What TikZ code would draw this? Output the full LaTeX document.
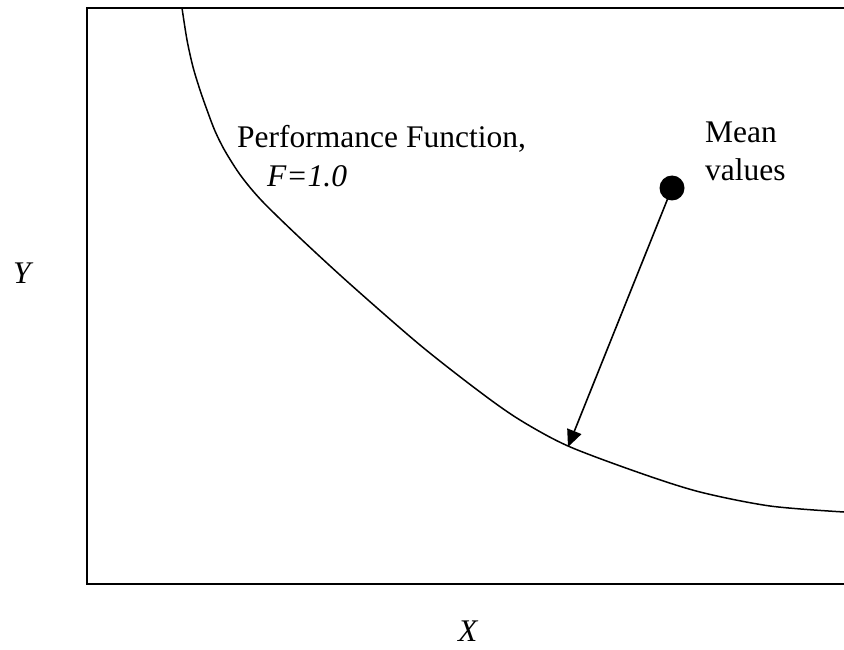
\documentclass[tikz,border=0pt]{standalone}
\usepackage{fontspec}
\setmainfont{Liberation Serif}
\usetikzlibrary{arrows.meta}
\begin{document}
\begin{tikzpicture}[x=1pt,y=-1pt,
  lbl/.style={anchor=base west,inner sep=0pt,font=\fontsize{31.5}{38}\selectfont},
  frame/.style={line width=2pt},
  curve/.style={line width=1.5pt},
  arr/.style={line width=1.6pt,-{Triangle[length=17pt,width=15pt]}},
  dot/.style={circle,fill=black,inner sep=0pt,minimum size=25pt}]
\useasboundingbox (0,0) rectangle (844,650);
\draw[frame] (844,8) -- (87,8) -- (87,584) -- (844,584);
\draw[curve] plot[smooth] coordinates {(182,8) (187,40) (193,67) (200,90) (207,110) (215,131) (225,151) (241,176) (262,201) (300,238) (350,284) (420,345) (480,392) (520,420) (568,446) (640,473) (700,492) (770,506) (844,512)};
\node[dot] (mean) at (672,188) {};
\coordinate (tip) at (568,447);
\draw[arr] (mean.center) -- (tip);
\node[lbl] (pf) at (237,148) {Performance Function,};
\node[lbl] (f) at (267,187) {\itshape F=1.0};
\node[lbl] (m1) at (705,143) {Mean};
\node[lbl] (m2) at (705,181) {values};
\node[lbl] (y) at (13,283) {\itshape Y};
\node[lbl] (x) at (458,641) {\itshape X};
\end{tikzpicture}
\end{document}
